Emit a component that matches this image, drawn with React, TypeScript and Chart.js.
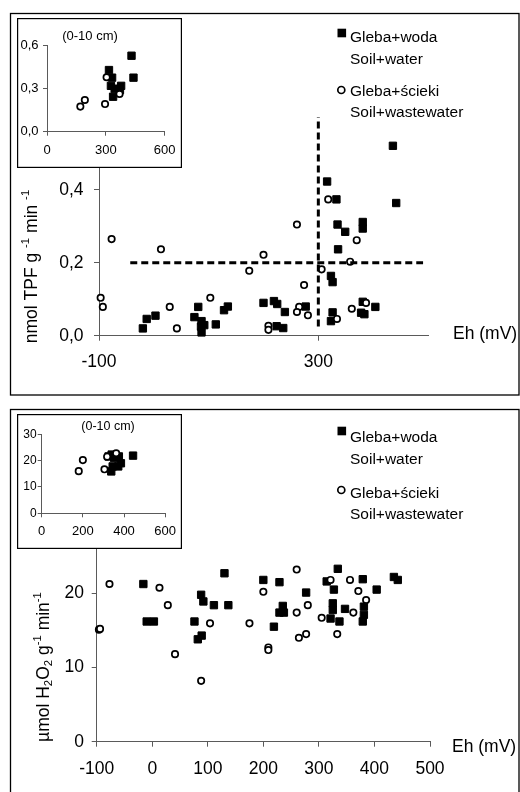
import React, { useEffect, useRef } from 'react';
import { Chart, registerables } from 'chart.js';

Chart.register(...registerables);

const FONT = '"Liberation Sans", Arial, Helvetica, sans-serif';
const AXIS = '#5a5a5a';

// ---------------- Top panel: nmol TPF g-1 min-1 vs Eh ----------------
const tpfWaterEh = [-20, -13, 3, 74, 81, 87, 86, 87, 92, 113, 128, 135, 200, 219, 225, 239, 224, 236, 277, 316, 333, 335, 349, 381, 381, 336, 323, 326, 326, 323, 381, 378, 384, 404, 436, 442];
const tpfWaterVal = [0.02, 0.046, 0.055, 0.051, 0.079, 0.04, 0.025, 0.009, 0.029, 0.031, 0.07, 0.08, 0.09, 0.095, 0.087, 0.065, 0.026, 0.021, 0.08, 0.423, 0.374, 0.305, 0.285, 0.312, 0.294, 0.237, 0.164, 0.147, 0.064, 0.04, 0.093, 0.063, 0.059, 0.079, 0.521, 0.364];
const tpfWasteEh = [-97, -93, -77, 13, 29, 42, 103, 174, 200, 209, 209, 261, 274, 265, 261, 281, 306, 318, 370, 358, 361, 387, 334];
const tpfWasteVal = [0.104, 0.079, 0.265, 0.237, 0.079, 0.02, 0.104, 0.178, 0.222, 0.027, 0.016, 0.305, 0.139, 0.079, 0.065, 0.056, 0.182, 0.374, 0.262, 0.203, 0.074, 0.09, 0.046];

const tpfInsetWaterEh = [431, 441, 316, 332, 326, 345, 378, 372, 337];
const tpfInsetWaterVal = [0.53, 0.377, 0.43, 0.377, 0.32, 0.3, 0.32, 0.29, 0.244];
const tpfInsetWasteEh = [170, 193, 296, 304, 370];
const tpfInsetWasteVal = [0.175, 0.221, 0.193, 0.38, 0.263];

const tpfXTicks = [-100, 300];
const tpfYTicks = [0, 0.2, 0.4, 0.6];
const tpfInsetXTicks = [0, 300, 600];
const tpfInsetYTicks = [0, 0.3, 0.6];

const ehThreshold = 300;
const ehThresholdSpan = [0.025, 0.6];
const tpfThreshold = 0.2;
const tpfThresholdSpan = [-43, 491];

// ---------------- Bottom panel: µmol H2O2 g-1 min-1 vs Eh ----------------
const catWaterEh = [-16, -10, 3, 76, 88, 92, 82, 89, 111, 137, 130, 200, 229, 277, 235, 229, 237, 219, 334, 314, 327, 379, 404, 435, 442, 325, 325, 321, 337, 347, 381, 381, 379];
const catWaterVal = [21.25, 16.2, 16.2, 16.2, 19.8, 18.9, 13.8, 14.3, 18.4, 18.4, 22.7, 21.8, 21.5, 20.1, 18.3, 17.4, 17.4, 15.5, 23.3, 21.6, 20.5, 21.9, 20.5, 22.2, 21.8, 18.65, 17.75, 16.6, 16.2, 17.9, 18.2, 17.1, 16.2];
const catWasteEh = [-96, -94, -77, 13, 28, 41, 88, 104, 175, 200, 260, 321, 356, 371, 385, 280, 260, 305, 362, 264, 277, 333, 209, 209];
const catWasteVal = [15.1, 15.2, 21.25, 20.75, 18.4, 11.8, 8.2, 15.95, 15.95, 20.2, 23.2, 21.8, 21.8, 20.3, 19.1, 18.4, 17.4, 16.7, 17.4, 14.0, 14.5, 14.5, 12.7, 12.35];

const catInsetWaterEh = [325, 340, 352, 375, 385, 372, 345, 338, 444];
const catInsetWaterVal = [21.6, 22.3, 21.0, 21.6, 19.0, 17.8, 17.8, 15.9, 21.9];
const catInsetWasteEh = [180, 200, 305, 318, 362];
const catInsetWasteVal = [16.0, 20.2, 16.7, 21.5, 22.8];

const catXTicks = [-100, 0, 100, 200, 300, 400, 500];
const catYTicks = [0, 10, 20, 30];
const catInsetXTicks = [0, 200, 400, 600];
const catInsetYTicks = [0, 10, 20, 30];

const insetTitle = '(0-10 cm)';
const xAxisTitle = 'Eh (mV)';
const legendWater = ['Gleba+woda', 'Soil+water'];
const legendWaste = ['Gleba+ścieki', 'Soil+wastewater'];

type Part = { t: string; sup?: boolean; sub?: boolean };
const tpfTitle: Part[] = [
  { t: 'nmol TPF g ' }, { t: '-1', sup: true }, { t: ' min ' }, { t: '-1', sup: true },
];
const catTitle: Part[] = [
  { t: 'µmol H' }, { t: '2', sub: true }, { t: 'O' }, { t: '2', sub: true }, { t: ' g' }, { t: '-1', sup: true }, { t: ' min' }, { t: '-1', sup: true },
];

// ---------------- helpers ----------------
const zip = (xs: number[], ys: number[]) => xs.map((x, i) => ({ x, y: ys[i] }));
const comma1 = (v: number) => v.toFixed(1).replace('.', ',');
const plain = (v: number) => String(v);

function squares(data: { x: number; y: number }[]) {
  return {
    data, pointStyle: 'rect', pointRadius: 5.2, pointHoverRadius: 5.2,
    backgroundColor: '#000', borderColor: '#000', borderWidth: 1, clip: false, showLine: false,
  };
}
function circles(data: { x: number; y: number }[]) {
  return {
    data, pointStyle: 'circle', pointRadius: 3.2, pointHoverRadius: 3.2,
    backgroundColor: '#fff', borderColor: '#000', borderWidth: 1.7, clip: false, showLine: false,
  };
}
function dashed(data: { x: number; y: number }[]) {
  return {
    data, showLine: true, pointRadius: 0, borderColor: '#000', borderWidth: 3,
    borderDash: [7, 4], borderCapStyle: 'butt', fill: false, clip: false,
  };
}

interface AxisSpec {
  min: number; max: number; ticks: number[]; size: number;
  font: number; padding: number; tickLength: number; fmt: (v: number) => string;
}

function axis(spec: AxisSpec, isX: boolean) {
  return {
    type: 'linear', min: spec.min, max: spec.max,
    afterBuildTicks: (s: any) => { s.ticks = spec.ticks.map((value) => ({ value })); },
    afterFit: (s: any) => { if (isX) s.height = spec.size; else s.width = spec.size; },
    grid: { drawOnChartArea: false, drawTicks: true, tickLength: spec.tickLength, color: AXIS, lineWidth: 1 },
    border: { display: true, color: AXIS, width: 1 },
    ticks: {
      color: '#000', font: { family: FONT, size: spec.font }, padding: spec.padding,
      autoSkip: false, maxRotation: 0, minRotation: 0, callback: (v: any) => spec.fmt(Number(v)),
    },
  };
}

function drawRotatedRich(ctx: CanvasRenderingContext2D, parts: Part[], baseX: number, cy: number, size: number) {
  ctx.save();
  ctx.translate(baseX, cy);
  ctx.rotate(-Math.PI / 2);
  ctx.fillStyle = '#000';
  ctx.textBaseline = 'alphabetic';
  ctx.textAlign = 'left';
  const small = size * 0.65;
  let total = 0;
  const widths = parts.map((p) => {
    ctx.font = `${p.sup || p.sub ? small : size}px ${FONT}`;
    const w = ctx.measureText(p.t).width;
    total += w;
    return w;
  });
  let x = -total / 2;
  parts.forEach((p, i) => {
    ctx.font = `${p.sup || p.sub ? small : size}px ${FONT}`;
    const dy = p.sup ? -size * 0.42 : p.sub ? size * 0.2 : 0;
    ctx.fillText(p.t, x, dy);
    x += widths[i];
  });
  ctx.restore();
}

interface Deco {
  box: [number, number, number, number];
  title: Part[]; titleX: number; titleY: number;
  ehX: number; ehY: number;
  legend: { sqY: number; circY: number; lines: number[] };
}

function mainPlugin(d: Deco) {
  return {
    id: 'deco',
    beforeDraw(chart: any) {
      const ctx = chart.ctx as CanvasRenderingContext2D;
      ctx.save();
      ctx.fillStyle = '#fff';
      ctx.fillRect(0, 0, chart.width, chart.height);
      ctx.strokeStyle = '#000';
      ctx.lineWidth = 1.3;
      ctx.strokeRect(d.box[0], d.box[1], d.box[2], d.box[3]);
      ctx.restore();
    },
    afterDraw(chart: any) {
      const ctx = chart.ctx as CanvasRenderingContext2D;
      ctx.save();
      drawRotatedRich(ctx, d.title, d.titleX, d.titleY, 17.5);
      ctx.fillStyle = '#000';
      ctx.font = `17.5px ${FONT}`;
      ctx.textAlign = 'left';
      ctx.textBaseline = 'middle';
      ctx.fillText(xAxisTitle, d.ehX, d.ehY);
      // legend
      ctx.fillRect(337.5, d.legend.sqY - 4.3, 8.6, 8.6);
      ctx.beginPath();
      ctx.arc(341.3, d.legend.circY, 3.5, 0, Math.PI * 2);
      ctx.fillStyle = '#fff';
      ctx.fill();
      ctx.lineWidth = 1.7;
      ctx.strokeStyle = '#000';
      ctx.stroke();
      ctx.fillStyle = '#000';
      ctx.font = `15.5px ${FONT}`;
      ctx.textBaseline = 'alphabetic';
      const texts = [...legendWater, ...legendWaste];
      texts.forEach((t, i) => ctx.fillText(t, 350, d.legend.lines[i]));
      ctx.restore();
    },
  };
}

function insetPlugin(titleX: number, titleY: number, size: number) {
  return {
    id: 'insetDeco',
    beforeDraw(chart: any) {
      const ctx = chart.ctx as CanvasRenderingContext2D;
      ctx.save();
      ctx.fillStyle = '#fff';
      ctx.fillRect(0, 0, chart.width, chart.height);
      ctx.strokeStyle = '#000';
      ctx.lineWidth = 1.2;
      ctx.strokeRect(0.6, 0.6, chart.width - 1.2, chart.height - 1.2);
      ctx.restore();
    },
    afterDraw(chart: any) {
      const ctx = chart.ctx as CanvasRenderingContext2D;
      ctx.save();
      ctx.fillStyle = '#000';
      ctx.font = `${size}px ${FONT}`;
      ctx.textAlign = 'center';
      ctx.textBaseline = 'middle';
      ctx.fillText(insetTitle, titleX, titleY);
      ctx.restore();
    },
  };
}

function scatterConfig(datasets: any[], x: AxisSpec, y: AxisSpec, padding: any, plugin: any) {
  return {
    type: 'scatter',
    data: { datasets },
    options: {
      animation: false,
      responsive: false,
      devicePixelRatio: 1,
      events: [],
      layout: { padding },
      plugins: { legend: { display: false }, tooltip: { enabled: false }, title: { display: false } },
      scales: { x: axis(x, true), y: axis(y, false) },
    },
    plugins: [plugin],
  } as any;
}

const topMainConfig = () =>
  scatterConfig(
    [
      dashed(zip([ehThreshold, ehThreshold], ehThresholdSpan)),
      dashed(zip(tpfThresholdSpan, [tpfThreshold, tpfThreshold])),
      circles(zip(tpfWasteEh, tpfWasteVal)),
      squares(zip(tpfWaterEh, tpfWaterVal)),
    ],
    { min: -100, max: 500, ticks: tpfXTicks, size: 64.3, font: 17.5, padding: 11, tickLength: 5, fmt: plain },
    { min: 0, max: 0.6, ticks: tpfYTicks, size: 99, font: 17.5, padding: 10.5, tickLength: 5, fmt: comma1 },
    { left: 0, right: 92, top: 117, bottom: 0 },
    mainPlugin({
      box: [10.5, 13.5, 508.5, 381.5],
      title: tpfTitle, titleX: 36.7, titleY: 266.5,
      ehX: 453, ehY: 334,
      legend: { sqY: 33, circY: 90, lines: [42, 64, 96, 117] },
    })
  );

const bottomMainConfig = () =>
  scatterConfig(
    [
      circles(zip(catWasteEh, catWasteVal)),
      squares(zip(catWaterEh, catWaterVal)),
    ],
    { min: -100, max: 500, ticks: catXTicks, size: 50.3, font: 17.5, padding: 12, tickLength: 5, fmt: plain },
    { min: 0, max: 30, ticks: catYTicks, size: 96.7, font: 17.5, padding: 7.7, tickLength: 5, fmt: plain },
    { left: 0, right: 90, top: 119.1, bottom: 0 },
    mainPlugin({
      box: [10.5, 9.5, 508.5, 420],
      title: catTitle, titleX: 48.5, titleY: 267,
      ehX: 452, ehY: 347,
      legend: { sqY: 31, circY: 90, lines: [42, 64, 98, 119] },
    })
  );

const topInsetConfig = () =>
  scatterConfig(
    [
      circles(zip(tpfInsetWasteEh, tpfInsetWasteVal)),
      squares(zip(tpfInsetWaterEh, tpfInsetWaterVal)),
    ],
    { min: 0, max: 600, ticks: tpfInsetXTicks, size: 36.3, font: 13, padding: 6.5, tickLength: 4, fmt: plain },
    { min: 0, max: 0.6, ticks: tpfInsetYTicks, size: 30, font: 13, padding: 4.5, tickLength: 4, fmt: comma1 },
    { left: 0, right: 14, top: 27.7, bottom: 0 },
    insetPlugin(73, 18, 13)
  );

const bottomInsetConfig = () =>
  scatterConfig(
    [
      circles(zip(catInsetWasteEh, catInsetWasteVal)),
      squares(zip(catInsetWaterEh, catInsetWaterVal)),
    ],
    { min: 0, max: 600, ticks: catInsetXTicks, size: 35.7, font: 13, padding: 6, tickLength: 4, fmt: plain },
    { min: 0, max: 30, ticks: catInsetYTicks, size: 24.7, font: 12, padding: 1, tickLength: 4, fmt: plain },
    { left: 0, right: 14.3, top: 20.3, bottom: 0 },
    insetPlugin(91, 13, 12.5)
  );

function ChartCanvas(props: { make: () => any; left: number; top: number; width: number; height: number }) {
  const ref = useRef<HTMLCanvasElement | null>(null);
  useEffect(() => {
    if (!ref.current) return;
    const chart = new Chart(ref.current, props.make());
    return () => chart.destroy();
  }, []);
  return (
    <canvas
      ref={ref}
      width={props.width}
      height={props.height}
      style={{ position: 'absolute', left: props.left, top: props.top, width: props.width, height: props.height, display: 'block' }}
    />
  );
}

export default function App() {
  return (
    <div style={{ position: 'absolute', left: 0, top: 0, width: 520, height: 792, overflow: 'hidden', background: '#fff' }}>
      <ChartCanvas make={topMainConfig} left={0} top={0} width={520} height={400} />
      <ChartCanvas make={bottomMainConfig} left={0} top={400} width={520} height={392} />
      <ChartCanvas make={topInsetConfig} left={17} top={18} width={165} height={150} />
      <ChartCanvas make={bottomInsetConfig} left={17} top={414} width={165} height={135} />
    </div>
  );
}
